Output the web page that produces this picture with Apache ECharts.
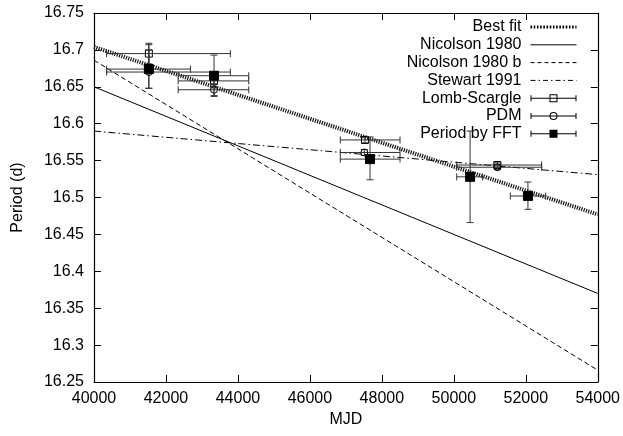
<!DOCTYPE html>
<html>
<head>
<meta charset="utf-8">
<script src="https://cdn.jsdelivr.net/npm/echarts@6/dist/echarts.min.js"></script>
<style>
html,body{margin:0;padding:0;background:#fff;}
#chart{width:623px;height:436px;}
</style>
</head>
<body>
<div id="chart"></div>
<script>
// ---- data ----
const fitX = [40000, 54000];
const bestFit = [16.704, 16.477];
const nicolson1980 = [16.650, 16.370];
const nicolson1980b = [16.686, 16.266];
const stewart1991 = [16.590, 16.531];

// Lomb-Scargle: x, y, x-low, x-high, y-low, y-high
const lsX    = [41525, 43336, 47530, 51210];
const lsY    = [16.695, 16.658, 16.578, 16.544];
const lsXLo  = [40350, 42340, 46845, 50080];
const lsXHi  = [43790, 44300, 48505, 52440];
const lsYLo  = [16.681, 16.650, 16.574, 16.541];
const lsYHi  = [16.709, 16.666, 16.582, 16.547];

// PDM
const pdmX   = [41525, 43336, 47513, 51210];
const pdmY   = [16.670, 16.646, 16.561, 16.541];
const pdmXLo = [40350, 42340, 46845, 50080];
const pdmXHi = [43790, 44300, 48505, 52440];
const pdmYLo = [16.648, 16.638, 16.557, 16.538];
const pdmYHi = [16.707, 16.654, 16.565, 16.544];

// Period by FFT
const fftX   = [41525, 43336, 47671, 50452, 52060];
const fftY   = [16.674, 16.665, 16.552, 16.528, 16.502];
const fftXLo = [40350, 42340, 46845, 50080, 51570];
const fftXHi = [42680, 44300, 48505, 50800, 52550];
const fftYLo = [16.648, 16.637, 16.524, 16.466, 16.484];
const fftYHi = [16.700, 16.693, 16.582, 16.590, 16.521];

const xTicks = {min: 40000, max: 54000, interval: 2000};
const yTicks = {min: 16.25, max: 16.75, interval: 0.05};

function zipErr(x, y, xl, xh, yl, yh) {
  return x.map((v, i) => [v, y[i], xl[i], xh[i], yl[i], yh[i]]);
}
function linePts(ys) { return fitX.map((x, i) => [x, ys[i]]); }

const BAR = '#333';
function errRender(marker, size) {
  return function (params, api) {
    const x = api.value(0), y = api.value(1);
    const c = api.coord([x, y]);
    const l = api.coord([api.value(2), y]);
    const r = api.coord([api.value(3), y]);
    const lo = api.coord([x, api.value(4)]);
    const hi = api.coord([x, api.value(5)]);
    const cap = 3.5;
    const ls = {stroke: BAR, lineWidth: 1};
    const kids = [
      {type: 'line', shape: {x1: l[0], y1: c[1], x2: r[0], y2: c[1]}, style: ls},
      {type: 'line', shape: {x1: l[0], y1: c[1] - cap, x2: l[0], y2: c[1] + cap}, style: ls},
      {type: 'line', shape: {x1: r[0], y1: c[1] - cap, x2: r[0], y2: c[1] + cap}, style: ls},
      {type: 'line', shape: {x1: c[0], y1: lo[1], x2: c[0], y2: hi[1]}, style: ls},
      {type: 'line', shape: {x1: c[0] - cap, y1: lo[1], x2: c[0] + cap, y2: lo[1]}, style: ls},
      {type: 'line', shape: {x1: c[0] - cap, y1: hi[1], x2: c[0] + cap, y2: hi[1]}, style: ls}
    ];
    const h = size / 2;
    if (marker === 'square') {
      kids.push({type: 'rect', shape: {x: c[0] - h, y: c[1] - h, width: size, height: size},
        style: {fill: 'none', stroke: '#000', lineWidth: 1}});
    } else if (marker === 'circle') {
      kids.push({type: 'circle', shape: {cx: c[0], cy: c[1], r: h},
        style: {fill: 'none', stroke: '#000', lineWidth: 1}});
    } else {
      kids.push({type: 'rect', shape: {x: c[0] - h, y: c[1] - h, width: size, height: size},
        style: {fill: '#000', stroke: '#000', lineWidth: 1}});
    }
    return {type: 'group', children: kids};
  };
}

const base = 'M0 3.5H46V4.5H0Z M0 1H1V7H0Z M45 1H46V7H45Z ';
const iconLS = 'path://' + base + 'M19 0H27V8H19Z M20 1V7H26V1Z';
const iconPDM = 'path://' + base + 'M27 4A4 4 0 1 1 19 4A4 4 0 1 1 27 4Z M26 4A3 3 0 1 0 20 4A3 3 0 1 0 26 4Z';
const iconFFT = 'path://' + base + 'M19 0H27V8H19Z';

const FONT = 'Liberation Sans, Arial, sans-serif';
const axisCommon = {
  axisLine: {show: true, lineStyle: {color: '#000', width: 1.2}},
  axisTick: {show: true, inside: true, length: 7, lineStyle: {color: '#000', width: 1}},
  splitLine: {show: false}
};
const noSym = {opacity: 0};

const chart = echarts.init(document.getElementById('chart'), null, {renderer: 'canvas'});
chart.setOption({
  animation: false,
  backgroundColor: '#fff',
  textStyle: {fontFamily: FONT},
  grid: {left: 94, right: 24, top: 13, bottom: 54},
  xAxis: [
    Object.assign({type: 'value', position: 'bottom', min: xTicks.min, max: xTicks.max, interval: xTicks.interval,
      name: 'MJD', nameLocation: 'middle', nameGap: 29,
      nameTextStyle: {fontSize: 16, color: '#000', fontFamily: FONT},
      axisLabel: {fontSize: 16, color: '#000', margin: 9, fontFamily: FONT, formatter: v => String(v)}}, axisCommon),
    Object.assign({type: 'value', position: 'top', min: xTicks.min, max: xTicks.max, interval: xTicks.interval,
      axisLabel: {show: false}}, axisCommon)
  ],
  yAxis: [
    Object.assign({type: 'value', position: 'left', min: yTicks.min, max: yTicks.max, interval: yTicks.interval,
      name: 'Period (d)', nameLocation: 'middle', nameGap: 68, nameRotate: 90,
      nameTextStyle: {fontSize: 16, color: '#000', fontFamily: FONT},
      axisLabel: {fontSize: 16, color: '#000', margin: 10, fontFamily: FONT,
        formatter: v => String(Math.round(v * 100) / 100)}}, axisCommon),
    Object.assign({type: 'value', position: 'right', min: yTicks.min, max: yTicks.max, interval: yTicks.interval,
      axisLabel: {show: false}}, axisCommon)
  ],
  legend: {
    orient: 'vertical', right: 45, top: 19, align: 'right', padding: 0,
    itemWidth: 46, itemHeight: 8, itemGap: 1.8,
    textStyle: {fontSize: 16, color: '#000', fontFamily: FONT, lineHeight: 16, padding: [0, 4, 0, 0]},
    data: [
      {name: 'Best fit', itemStyle: noSym, lineStyle: {width: 3, type: [1.6, 1.6], cap: 'butt', color: '#000'}},
      {name: 'Nicolson 1980', itemStyle: noSym, lineStyle: {width: 1}},
      {name: 'Nicolson 1980 b', itemStyle: noSym, lineStyle: {width: 1, type: [4, 3]}},
      {name: 'Stewart 1991', itemStyle: noSym, lineStyle: {width: 1, type: [5, 3, 1.5, 3]}},
      {name: 'Lomb-Scargle', icon: iconLS},
      {name: 'PDM', icon: iconPDM},
      {name: 'Period by FFT', icon: iconFFT}
    ]
  },
  series: [
    {name: 'Best fit', type: 'line', data: linePts(bestFit), symbol: 'none', z: 3,
      lineStyle: {color: '#111', width: 4, type: [1.2, 1.2], cap: 'butt'}, itemStyle: {color: '#111'}},
    {name: 'Nicolson 1980', type: 'line', data: linePts(nicolson1980), symbol: 'none',
      lineStyle: {color: '#000', width: 1, type: 'solid'}, itemStyle: {color: '#000'}},
    {name: 'Nicolson 1980 b', type: 'line', data: linePts(nicolson1980b), symbol: 'none',
      lineStyle: {color: '#000', width: 1, type: [5, 3]}, itemStyle: {color: '#000'}},
    {name: 'Stewart 1991', type: 'line', data: linePts(stewart1991), symbol: 'none',
      lineStyle: {color: '#000', width: 1, type: [7, 3, 1.5, 3]}, itemStyle: {color: '#000'}},
    {name: 'Lomb-Scargle', type: 'custom', renderItem: errRender('square', 7),
      data: zipErr(lsX, lsY, lsXLo, lsXHi, lsYLo, lsYHi), encode: {x: 0, y: 1},
      itemStyle: {color: '#000'}, z: 4},
    {name: 'PDM', type: 'custom', renderItem: errRender('circle', 7),
      data: zipErr(pdmX, pdmY, pdmXLo, pdmXHi, pdmYLo, pdmYHi), encode: {x: 0, y: 1},
      itemStyle: {color: '#000'}, z: 4},
    {name: 'Period by FFT', type: 'custom', renderItem: errRender('filled', 9),
      data: zipErr(fftX, fftY, fftXLo, fftXHi, fftYLo, fftYHi), encode: {x: 0, y: 1},
      itemStyle: {color: '#000'}, z: 5}
  ]
});
</script>
</body>
</html>
